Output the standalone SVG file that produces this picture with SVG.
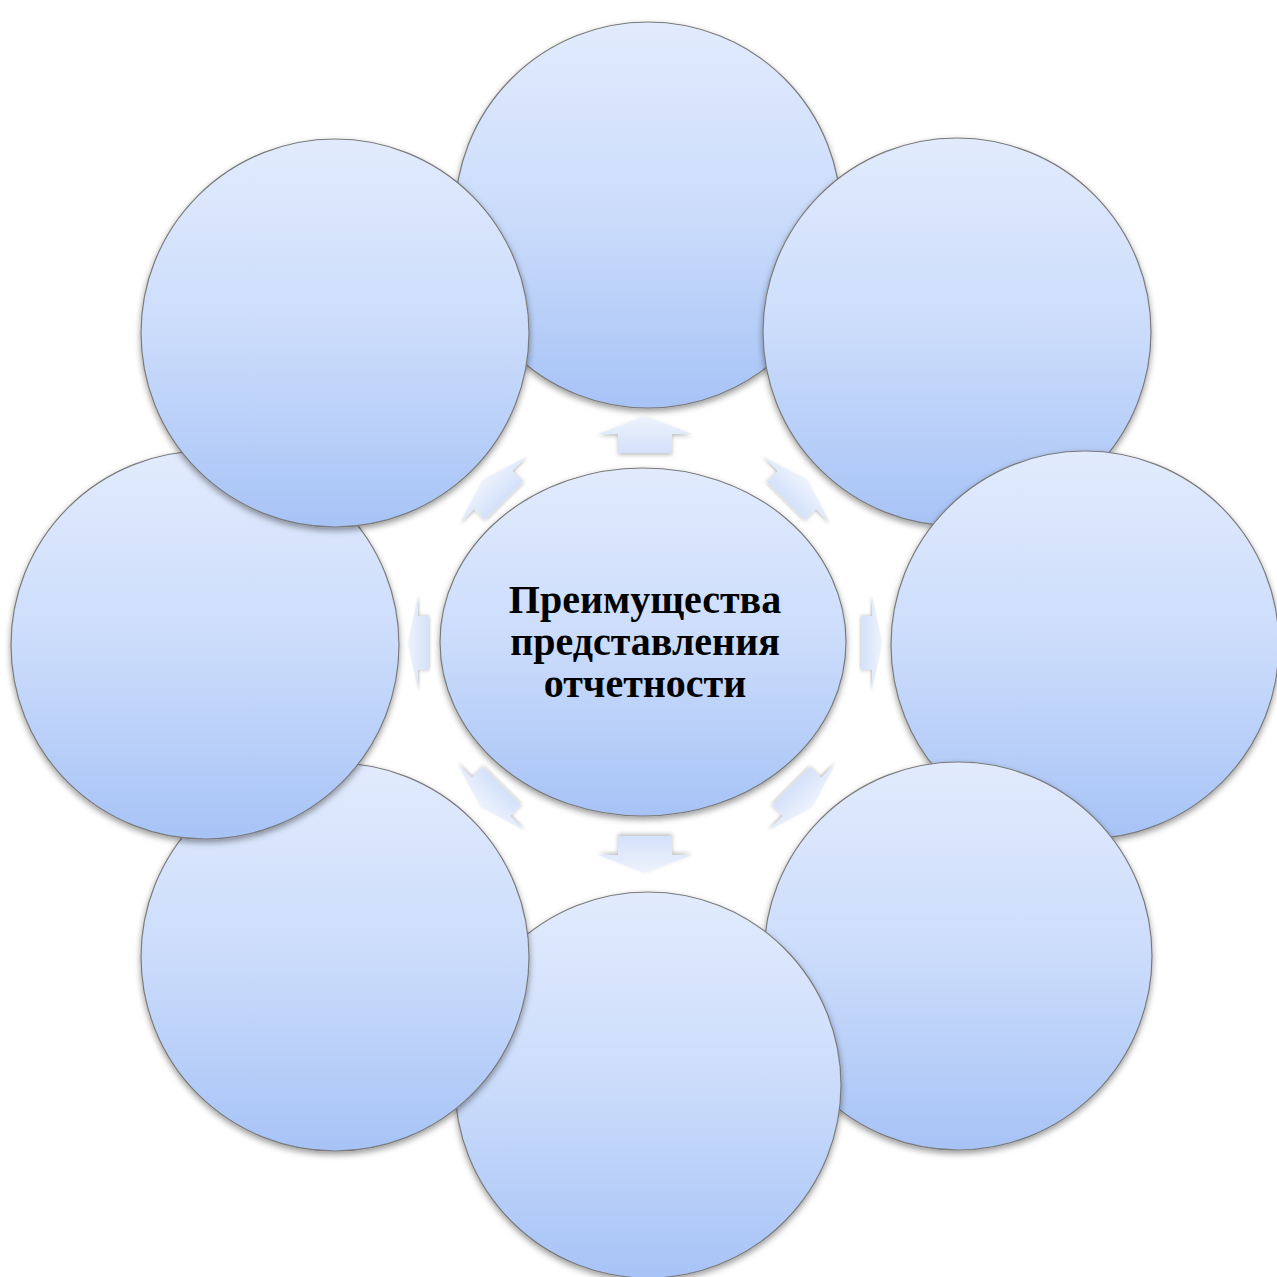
<svg xmlns="http://www.w3.org/2000/svg" width="1277" height="1277" viewBox="0 0 1277 1277">
  <defs>
    <linearGradient id="gCircle" x1="0" y1="0" x2="0" y2="1">
      <stop offset="0" stop-color="#e2ebfd"/>
      <stop offset="0.5" stop-color="#cbdcfb"/>
      <stop offset="1" stop-color="#a7c3f6"/>
    </linearGradient>
    <linearGradient id="gArrow" x1="0" y1="0" x2="0" y2="1">
      <stop offset="0" stop-color="#eef3fd"/>
      <stop offset="1" stop-color="#d3e1fa"/>
    </linearGradient>
    <filter id="shadow" x="-10%" y="-10%" width="120%" height="125%">
      <feDropShadow dx="0" dy="3" stdDeviation="3" flood-color="#000" flood-opacity="0.4"/>
    </filter>
    <filter id="ashadow" x="-20%" y="-20%" width="140%" height="160%">
      <feDropShadow dx="0" dy="2" stdDeviation="2" flood-color="#000" flood-opacity="0.25"/>
    </filter>
    <path id="arr" d="M0,-18 L47,0 L27,0 L27,19 L-27,19 L-27,0 L-47,0 Z"/>
  </defs>
  <style>
    .node { fill: url(#gCircle); stroke: #7a7a7a; stroke-width: 1.2; filter: url(#shadow); }
    .arrow { fill: url(#gArrow); filter: url(#ashadow); }
    .label { font-family: "Liberation Serif", "Times New Roman", serif; font-weight: bold; font-size: 40px; fill: #000; text-anchor: middle; }
  </style>
  <rect width="1277" height="1277" fill="#ffffff"/>

  <g id="node-top"><circle class="node" cx="648" cy="215" r="193"/></g>
  <g id="node-top-right"><circle class="node" cx="957" cy="332" r="194"/></g>
  <g id="node-right"><circle class="node" cx="1085" cy="645" r="194"/></g>
  <g id="node-bottom-right"><circle class="node" cx="958" cy="956" r="194"/></g>
  <g id="node-bottom"><circle class="node" cx="648" cy="1085" r="193"/></g>
  <g id="node-bottom-left"><circle class="node" cx="335" cy="957" r="194"/></g>
  <g id="node-left"><circle class="node" cx="205" cy="645" r="194"/></g>
  <g id="node-top-left"><circle class="node" cx="335" cy="333" r="194"/></g>

  <g id="connectors">
    <use href="#arr" class="arrow" transform="translate(645,434)"/>
    <use href="#arr" class="arrow" transform="translate(797,490) rotate(45) scale(1,0.8)"/>
    <use href="#arr" class="arrow" transform="translate(872,643) rotate(90) scale(1,0.55)"/>
    <use href="#arr" class="arrow" transform="translate(802,797) rotate(135) scale(1,0.8)"/>
    <use href="#arr" class="arrow" transform="translate(645,855) rotate(180)"/>
    <use href="#arr" class="arrow" transform="translate(491,797) rotate(-135) scale(1,0.8)"/>
    <use href="#arr" class="arrow" transform="translate(418,643) rotate(-90) scale(1,0.55)"/>
    <use href="#arr" class="arrow" transform="translate(493,490) rotate(-45) scale(1,0.8)"/>
  </g>

  <g id="node-center">
    <ellipse class="node" cx="643" cy="642" rx="203" ry="174"/>
    <text class="label" x="645" y="613">Преимущества</text>
    <text class="label" x="645" y="655">представления</text>
    <text class="label" x="645" y="697">отчетности</text>
  </g>
</svg>
